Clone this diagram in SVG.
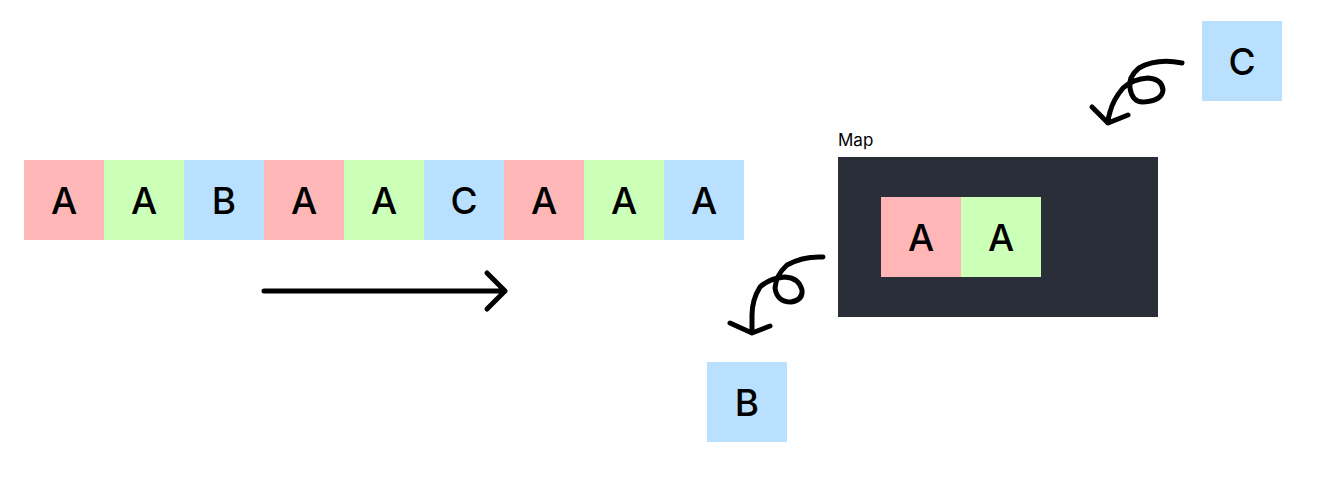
<svg xmlns="http://www.w3.org/2000/svg" width="1321" height="486" viewBox="0 0 1321 486">
<style>
.r{fill:#FFB6B6}.g{fill:#CCFFB8}.b{fill:#B9E0FF}
.t{font-family:Inter,"Liberation Sans",sans-serif;font-size:37px;font-weight:500;fill:#000;text-anchor:middle}
.ln{fill:none;stroke:#000;stroke-width:5;stroke-linecap:round;stroke-linejoin:round}
</style>
<rect width="1321" height="486" fill="#fff"/>
<g id="sequence">
<g id="s1"><rect class="r" x="24" y="160" width="80" height="80"/><text class="t" x="64" y="214">A</text></g>
<g id="s2"><rect class="g" x="104" y="160" width="80" height="80"/><text class="t" x="144" y="214">A</text></g>
<g id="s3"><rect class="b" x="184" y="160" width="80" height="80"/><text class="t" x="224" y="214">B</text></g>
<g id="s4"><rect class="r" x="264" y="160" width="80" height="80"/><text class="t" x="304" y="214">A</text></g>
<g id="s5"><rect class="g" x="344" y="160" width="80" height="80"/><text class="t" x="384" y="214">A</text></g>
<g id="s6"><rect class="b" x="424" y="160" width="80" height="80"/><text class="t" x="464" y="214">C</text></g>
<g id="s7"><rect class="r" x="504" y="160" width="80" height="80"/><text class="t" x="544" y="214">A</text></g>
<g id="s8"><rect class="g" x="584" y="160" width="80" height="80"/><text class="t" x="624" y="214">A</text></g>
<g id="s9"><rect class="b" x="664" y="160" width="80" height="80"/><text class="t" x="704" y="214">A</text></g>
</g>
<g id="map">
<text x="838" y="146" font-family="Inter,'Liberation Sans',sans-serif" font-size="17" fill="#000">Map</text>
<rect x="838" y="157" width="320" height="160" fill="#2A2E39"/>
<g id="m1"><rect class="r" x="881" y="197" width="80" height="80"/><text class="t" x="921" y="251">A</text></g>
<g id="m2"><rect class="g" x="961" y="197" width="80" height="80"/><text class="t" x="1001" y="251">A</text></g>
</g>
<g id="c"><rect class="b" x="1202" y="21" width="80" height="80"/><text class="t" x="1242" y="75">C</text></g>
<g id="bnode"><rect class="b" x="707" y="362" width="80" height="80"/><text class="t" x="747" y="416">B</text></g>
<g id="connectors">
<path class="ln" d="M264 291 H505 M487 273 L505 291 L487 309"/>
<path class="ln" d="M1182 63 Q1157 58 1139 68 Q1128 77 1130 88 Q1132 102 1143 102 Q1162 101 1163 90 Q1162 79 1148 78 Q1133 79 1123 88 Q1113 100 1110 112 Q1108 118 1108 123 M1092 107 L1108 123 L1128 115"/>
<path class="ln" d="M823 257 Q803 256 787 265 Q776 275 775 288 Q777 302 791 302 Q803 300 802 290 Q799 278 785 277 Q770 278 760 287 Q752 300 752 315 L752 332 M730 323 L752 333 L770 326"/>
</g>
</svg>
